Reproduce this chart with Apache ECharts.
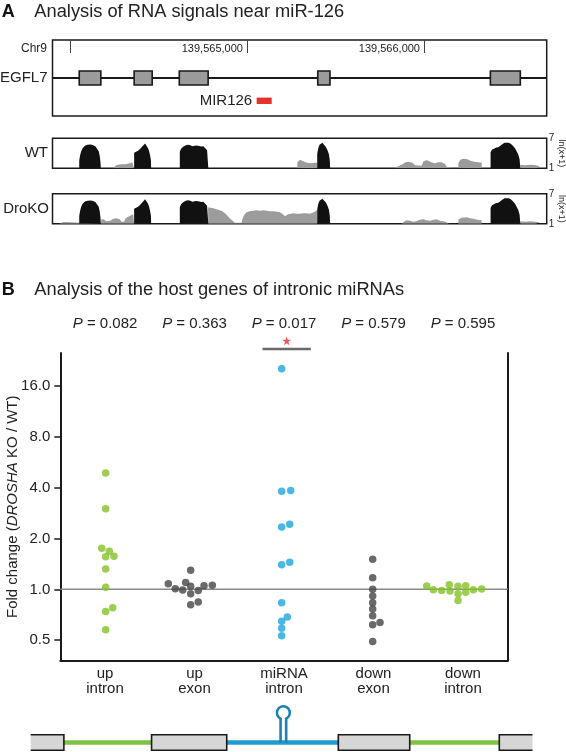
<!DOCTYPE html>
<html><head><meta charset="utf-8">
<script src="https://cdn.jsdelivr.net/npm/echarts@6/dist/echarts.min.js"></script>
<style>html,body{margin:0;padding:0;background:#fff}#c{width:566px;height:752px}</style>
</head><body><div id="c"></div>
<script>
// ---------- Panel A data (positions in bp relative to CHR_BASE) ----------
const CHR_BASE = 139564000;
const chrTicks = [0, 1000, 2000];
const chrTickLabels = [1000, 2000];
const geneSpan = [-98, 2693];
const egfl7Exons = [[53,175],[363,465],[618,781],[1400,1469],[2375,2544]];
const mir126 = [[1055,1140]];

const wtExonCov = [
 [53,1],[53,2.6],[58,3.6],[64,4.4],[72,5.0],[85,5.5],[100,5.7],[118,5.75],[132,5.6],[145,5.35],[156,5.0],[163,4.4],[169,3.4],[173,2.2],[175,1],
 [363,1],[363,4.1],[372,4.3],[385,4.5],[398,4.9],[410,5.4],[418,5.8],[425,5.95],[432,5.7],[440,5.1],[447,4.5],[453,3.6],[458,2.6],[459,1],
 [621,1],[621,4.3],[628,4.9],[640,5.3],[655,5.6],[668,5.7],[680,5.6],[692,5.4],[702,5.3],[712,5.55],[724,5.5],[734,5.1],[742,5.35],[754,5.4],[765,5.1],[775,4.6],[781,4.2],[782,1],
 [1397,1],[1397,3.9],[1403,5.0],[1410,5.7],[1418,6.05],[1426,6.1],[1435,5.85],[1445,5.3],[1455,4.6],[1463,3.8],[1468,2.6],[1470,1],
 [2376,1],[2376,4.2],[2384,4.7],[2395,5.0],[2408,5.15],[2420,5.2],[2430,5.5],[2442,5.8],[2455,6.1],[2466,6.2],[2478,6.1],[2490,5.9],[2502,5.5],[2514,5.0],[2524,4.6],[2532,3.8],[2540,2.8],[2544,1]
];
const wtIntronCov = [
 [245,1],[245,1.3],[258,1.5],[270,1.7],[290,1.8],[310,1.8],[325,1.9],[340,2.0],[352,2.2],[363,2.2],[363,1],
 [1230,1],[1230,1.3],[1238,1.3],[1238,1],[1255,1],[1255,1.4],[1263,1.4],[1263,1],
 [1285,1],[1285,2.2],[1300,2.7],[1310,2.6],[1325,2.3],[1340,2.1],[1360,2.0],[1380,2.1],[1397,2.1],[1397,1],
 [1830,1],[1830,1.4],[1860,1.5],[1870,1.3],[1879,1.8],[1895,2.2],[1915,2.3],[1935,2.1],[1949,1.6],[1960,1.3],[1987,1.5],[1995,2.3],[2010,2.6],[2025,2.5],[2040,2.2],[2062,2.0],[2080,2.2],[2100,2.2],[2120,1.8],[2128,1.3],[2135,1],
 [2194,1],[2194,2.0],[2205,2.7],[2222,2.9],[2245,2.8],[2262,2.5],[2285,2.3],[2326,2.1],[2326,1],
 [2544,1],[2544,1.7],[2570,1.6],[2600,1.7],[2630,1.6],[2655,1.4],[2660,1]
];
const koExonCov = [
 [53,1],[53,2.6],[58,3.6],[64,4.4],[72,5.0],[85,5.45],[100,5.6],[118,5.65],[132,5.55],[145,5.3],[156,5.0],[163,4.4],[169,3.4],[173,2.2],[175,1],
 [363,1],[363,4.0],[372,4.2],[385,4.4],[398,4.8],[410,5.3],[418,5.7],[425,5.9],[432,5.6],[440,5.1],[447,4.5],[453,3.6],[458,2.6],[459,1],
 [621,1],[621,4.3],[628,4.9],[640,5.3],[655,5.6],[668,5.7],[680,5.6],[692,5.4],[702,5.3],[712,5.55],[724,5.5],[734,5.1],[742,5.35],[754,5.4],[765,5.1],[775,4.6],[781,4.2],[782,1],
 [1397,1],[1397,3.9],[1403,5.0],[1410,5.6],[1418,5.95],[1426,6.0],[1435,5.8],[1445,5.3],[1455,4.6],[1463,3.8],[1468,2.6],[1470,1],
 [2376,1],[2376,4.2],[2384,4.7],[2395,5.0],[2408,5.15],[2420,5.2],[2430,5.5],[2442,5.8],[2455,6.1],[2466,6.2],[2478,6.1],[2490,5.9],[2502,5.5],[2514,5.0],[2524,4.6],[2532,3.8],[2540,2.8],[2544,1]
];
const koIntronCov = [
 [-60,1],[-60,1.3],[-40,1.3],[-20,1.35],[0,1.3],[9,1.3],[9,1],
 [175,1],[178,1.9],[190,1.9],[200,1.8],[207,1.5],[217,1.5],[228,1.6],[235,1.4],[245,2.0],[262,2.1],[282,1.9],[292,1.4],[305,1.4],[316,2.1],[330,2.4],[345,2.7],[358,2.9],[363,2.9],[363,1],
 [781,1],[781,4.3],[795,4.2],[810,4.1],[829,3.9],[845,3.7],[857,3.6],[872,3.2],[885,2.8],[900,2.2],[913,1.8],[923,1.4],[932,1.2],[950,1.2],[970,1.2],[975,2.0],[985,2.8],[998,3.3],[1015,3.5],[1036,3.6],[1055,3.7],[1073,3.6],[1095,3.7],[1111,3.6],[1130,3.5],[1149,3.5],[1170,3.4],[1186,3.3],[1200,3.0],[1215,2.5],[1225,2.8],[1233,2.9],[1250,3.0],[1262,3.1],[1280,3.0],[1299,3.0],[1320,3.1],[1337,3.1],[1356,3.0],[1370,3.2],[1384,3.4],[1397,3.8],[1397,1],
 [1874,1],[1874,1.4],[1890,1.5],[1902,1.7],[1920,1.6],[1940,1.4],[1955,1.5],[1977,1.8],[1995,1.9],[2015,1.7],[2035,1.6],[2053,1.8],[2070,1.9],[2090,1.6],[2110,1.5],[2128,1.3],[2140,1],
 [2194,1],[2194,1.8],[2210,2.2],[2241,2.3],[2260,2.1],[2279,2.0],[2300,1.8],[2326,1.7],[2326,1],
 [2544,1],[2544,1.5],[2570,1.4],[2600,1.5],[2630,1.4],[2655,1.3],[2660,1]
];

// ---------- Panel B data ----------
const categories = ['up\nintron','up\nexon','miRNA\nintron','down\nexon','down\nintron'];
const pValues = ['0.082','0.363','0.017','0.579','0.595'];
const yTicks = [0.5, 1, 2, 4, 8, 16];
const foldRef = 1;
// [category position incl. swarm offset, fold change]
const upIntron = [[0.007,4.90],[0.007,3.01],[-0.037,1.75],[0.048,1.68],[0.007,1.56],[0.100,1.57],[0.007,1.32],[0.007,1.03],[0.086,0.779],[0.007,0.740],[0.007,0.576]];
const upExon = [[0.957,1.297],[0.707,1.078],[0.785,1.01],[0.868,0.990],[0.901,1.10],[0.957,1.042],[0.957,0.943],[1.042,0.986],[1.106,1.052],[1.199,1.056],[0.957,0.811],[1.042,0.841]];
const mirnaIntron = [[1.974,20.3],[1.974,3.82],[2.075,3.86],[1.974,2.34],[2.064,2.43],[1.974,1.40],[2.064,1.45],[1.974,0.834],[1.974,0.648],[2.037,0.685],[1.974,0.589],[1.974,0.531]];
const downExon = [[2.991,1.507],[2.991,1.173],[2.991,1.0],[2.991,0.912],[2.991,0.834],[2.991,0.764],[2.991,0.698],[2.991,0.617],[3.073,0.637],[2.991,0.491]];
const downIntron = [[3.595,1.046],[3.669,0.996],[3.762,0.986],[3.847,1.066],[3.855,0.977],[3.945,1.042],[3.945,0.943],[3.945,0.860],[4.031,1.052],[4.031,0.960],[4.116,0.996],[4.209,1.004]];
const sigSpan = [1.76, 2.30];
const sigStar = [2.03];

// schematic (category units): [start, end, openSide]
const schemBoxes = [[-0.831,-0.460,-1],[0.520,1.360,0],[2.607,3.405,0],[4.406,4.777,1]];
const schemGreen = [[-0.460,0.520],[3.405,4.406]];
const schemBlue = [[1.360,2.607]];
const hairpin = [[1.993]];

// ---------- rendering ----------
const FONT = "'Liberation Sans', Arial, Helvetica, sans-serif";
const INK = '#1a1a1a', TXT = '#222';
const GREEN = '#84c225', DARK = '#454545', BLUE = '#1ea5dc';
const chart = echarts.init(document.getElementById('c'), null, {width:566, height:752});

const hidX = (g, min, max) => ({gridIndex:g, type:'value', min, max, show:false});
const hidY = (g, min, max) => ({gridIndex:g, type:'value', min, max, show:false});
const cov = (data, color, xi, yi) => ({type:'line', xAxisIndex:xi, yAxisIndex:yi, data, symbol:'none', showSymbol:false,
  lineStyle:{width:0}, areaStyle:{color, opacity:1, origin:'start'}, silent:true, z:2});
const trackY = (g) => ({gridIndex:g, type:'value', min:1, max:7, position:'right',
  axisLine:{show:false, onZero:false}, axisTick:{show:false}, splitLine:{show:false},
  axisLabel:{customValues:[1,7], fontSize:10, color:TXT, margin:2, fontFamily:FONT},
  name:'ln(x+1)', nameLocation:'middle', nameRotate:-90, nameGap:10, nameMoveOverlap:false,
  nameTextStyle:{fontSize:9, color:TXT, fontFamily:FONT}});
const boxGrid = (top, height) => ({left:52.5, top, width:494.2, height, show:true, borderColor:INK, borderWidth:1.5, backgroundColor:'transparent', containLabel:false, outerBoundsMode:'none'});

const segRender = (color, width) => (p, api) => {
  const a = api.coord([api.value(0), 0.5]), b = api.coord([api.value(1), 0.5]);
  return {type:'line', shape:{x1:a[0], y1:a[1], x2:b[0], y2:b[1]}, style:{stroke:color, lineWidth:width}};
};

const option = {
  animation:false,
  textStyle:{fontFamily:FONT},
  grid:[
    boxGrid(40, 76),
    boxGrid(138.3, 30),
    boxGrid(193.8, 30),
    {left:60.3, top:353, width:447.4, height:307.5, containLabel:false, outerBoundsMode:'none'},
    {left:60.3, top:330, width:447.4, height:30, containLabel:false, outerBoundsMode:'none'},
    {left:0, top:700, width:566, height:85, containLabel:false, outerBoundsMode:'none'}
  ],
  xAxis:[
    {gridIndex:0, type:'value', min:geneSpan[0], max:geneSpan[1], position:'top',
      axisLine:{show:false, onZero:false}, splitLine:{show:false},
      axisTick:{show:true, inside:true, length:13, customValues:chrTicks, lineStyle:{color:'#444', width:1}},
      axisLabel:{inside:true, customValues:chrTickLabels, align:'right', padding:[0,4,0,0], margin:3,
        fontSize:11, color:TXT, fontFamily:FONT,
        formatter:(v)=> (CHR_BASE + v).toLocaleString('en-US')}},
    hidX(1, geneSpan[0], geneSpan[1]),
    hidX(2, geneSpan[0], geneSpan[1]),
    hidX(3, -0.5, 4.5),
    {gridIndex:3, type:'category', data:categories, position:'bottom', boundaryGap:true,
      axisLine:{show:true, onZero:false, lineStyle:{color:INK, width:2}}, axisTick:{show:false},
      axisLabel:{interval:0, fontSize:15, lineHeight:15, color:TXT, margin:6, fontFamily:FONT}},
    {gridIndex:3, type:'category', data:pValues, position:'top', boundaryGap:true,
      axisLine:{show:false, onZero:false}, axisTick:{show:false},
      axisLabel:{interval:0, fontSize:15, color:TXT, margin:22, fontFamily:FONT,
        formatter:(v)=>'{i|P} = ' + v,
        rich:{i:{fontStyle:'italic', fontSize:15, color:TXT, fontFamily:FONT}}}},
    hidX(4, -0.5, 4.5),
    {gridIndex:5, type:'value', min:-0.5 - 60.3/89.48, max:-0.5 + (566-60.3)/89.48, show:false}
  ],
  yAxis:[
    hidY(0, 0, 1),
    trackY(1),
    trackY(2),
    {gridIndex:3, type:'log', logBase:2, min:0.3787, max:25.19, position:'left',
      axisLine:{show:true, onZero:false, lineStyle:{color:INK, width:2}},
      axisTick:{show:true, length:6, customValues:yTicks, lineStyle:{color:INK, width:1.5}},
      axisLabel:{customValues:yTicks, formatter:(v)=>Number(v).toFixed(1), fontSize:15, color:TXT, margin:10, fontFamily:FONT},
      splitLine:{show:false},
      name:'Fold change ({i|DROSHA} KO / WT)', nameLocation:'middle', nameGap:40, nameMoveOverlap:false,
      nameTextStyle:{fontSize:15, color:TXT, fontFamily:FONT, rich:{i:{fontStyle:'italic', fontSize:15, color:TXT, fontFamily:FONT}}}},
    {gridIndex:3, type:'value', min:0, max:1, position:'right',
      axisLine:{show:true, onZero:false, lineStyle:{color:INK, width:2}}, axisTick:{show:false}, axisLabel:{show:false}, splitLine:{show:false}},
    hidY(4, 0, 1),
    hidY(5, 0, 1)
  ],
  graphic:[
    {type:'text', x:1.8, y:12.3, style:{text:'A', font:'bold 18px '+FONT, fill:'#111', verticalAlign:'middle'}},
    {type:'text', x:34.3, y:12.3, style:{text:'Analysis of RNA signals near miR-126', font:'18.3px '+FONT, fill:TXT, verticalAlign:'middle'}},
    {type:'text', x:1.8, y:290, style:{text:'B', font:'bold 18px '+FONT, fill:'#111', verticalAlign:'middle'}},
    {type:'text', x:34.3, y:290, style:{text:'Analysis of the host genes of intronic miRNAs', font:'18.3px '+FONT, fill:TXT, verticalAlign:'middle'}},
    {type:'text', x:47, y:48.3, style:{text:'Chr9', font:'12px '+FONT, fill:TXT, align:'right', verticalAlign:'middle'}},
    {type:'text', x:47.5, y:77.7, style:{text:'EGFL7', font:'15px '+FONT, fill:TXT, align:'right', verticalAlign:'middle'}},
    {type:'text', x:48, y:153, style:{text:'WT', font:'15px '+FONT, fill:TXT, align:'right', verticalAlign:'middle'}},
    {type:'text', x:49, y:209, style:{text:'DroKO', font:'15px '+FONT, fill:TXT, align:'right', verticalAlign:'middle'}}
  ],
  series:[
    // gene model
    {type:'line', xAxisIndex:0, yAxisIndex:0, data:[[geneSpan[0],0.5],[geneSpan[1],0.5]], symbol:'none', lineStyle:{color:INK, width:2}, silent:true, z:2},
    {type:'custom', xAxisIndex:0, yAxisIndex:0, data:egfl7Exons, encode:{x:[0,1]}, z:3, silent:true,
      renderItem:(p, api)=>{ const a=api.coord([api.value(0),0.5]), b=api.coord([api.value(1),0.5]);
        return {type:'rect', shape:{x:a[0], y:a[1]-7, width:b[0]-a[0], height:14}, style:{fill:'#9b9b9b', stroke:INK, lineWidth:1.6}}; }},
    {type:'custom', xAxisIndex:0, yAxisIndex:0, data:mir126, encode:{x:[0,1]}, z:3, silent:true,
      renderItem:(p, api)=>{ const a=api.coord([api.value(0),0.2]), b=api.coord([api.value(1),0.2]);
        return {type:'group', children:[
          {type:'rect', shape:{x:a[0], y:a[1]-3.2, width:b[0]-a[0], height:6.4}, style:{fill:'#e4332b'}},
          {type:'text', style:{x:a[0]-4.5, y:a[1], text:'MIR126', align:'right', verticalAlign:'middle', font:'15px '+FONT, fill:TXT}}]}; }},
    // coverage tracks
    cov(wtIntronCov, '#9c9c9c', 1, 1),
    cov(wtExonCov, '#111111', 1, 1),
    cov(koIntronCov, '#9c9c9c', 2, 2),
    cov(koExonCov, '#111111', 2, 2),
    // panel B
    {type:'line', xAxisIndex:3, yAxisIndex:3, data:[[-0.5,foldRef],[4.5,foldRef]], symbol:'none', lineStyle:{color:'#8a8a8a', width:1.5}, silent:true, z:1},
    {type:'scatter', xAxisIndex:3, yAxisIndex:3, data:upIntron, symbolSize:7.5, itemStyle:{color:GREEN}, z:3},
    {type:'scatter', xAxisIndex:3, yAxisIndex:3, data:upExon, symbolSize:7.5, itemStyle:{color:DARK}, z:3},
    {type:'scatter', xAxisIndex:3, yAxisIndex:3, data:mirnaIntron, symbolSize:7.5, itemStyle:{color:BLUE}, z:3},
    {type:'scatter', xAxisIndex:3, yAxisIndex:3, data:downExon, symbolSize:7.5, itemStyle:{color:DARK}, z:3},
    {type:'scatter', xAxisIndex:3, yAxisIndex:3, data:downIntron, symbolSize:7.5, itemStyle:{color:GREEN}, z:3},
    // significance bar
    {type:'line', xAxisIndex:6, yAxisIndex:5, data:[[sigSpan[0],0.367],[sigSpan[1],0.367]], symbol:'none', lineStyle:{color:'#6a6a6a', width:2.5}, silent:true},
    {type:'scatter', xAxisIndex:6, yAxisIndex:5, data:sigStar.map(x=>[x,0.643]), symbolSize:9,
      symbol:'path://M50,0 L61,35 L98,35 L68,57 L79,91 L50,70 L21,91 L32,57 L2,35 L39,35 Z', itemStyle:{color:'#e2302a'}, silent:true},
    // schematic
    {type:'custom', xAxisIndex:7, yAxisIndex:6, data:schemGreen, encode:{x:[0,1]}, renderItem:segRender('#7dc242', 4.5), z:1, silent:true},
    {type:'custom', xAxisIndex:7, yAxisIndex:6, data:schemBlue, encode:{x:[0,1]}, renderItem:segRender('#1f9bd0', 4.5), z:1, silent:true},
    {type:'custom', xAxisIndex:7, yAxisIndex:6, data:hairpin, encode:{x:0}, z:2, silent:true,
      renderItem:(p, api)=>{ const b=api.coord([api.value(0),0.5]); const bx=b[0], by=b[1];
        const cy = by-29.75, r=6.5, dx=2.8, ny = cy+Math.sqrt(r*r-dx*dx);
        const d = `M${bx-dx},${by} L${bx-dx},${ny} A${r},${r} 0 1 1 ${bx+dx},${ny} L${bx+dx},${by}`;
        return {type:'path', shape:{pathData:d}, style:{fill:null, stroke:'#1c80b4', lineWidth:2.6}}; }},
    {type:'custom', xAxisIndex:7, yAxisIndex:6, data:schemBoxes, encode:{x:[0,1]}, z:3, silent:true,
      renderItem:(p, api)=>{ const a=api.coord([api.value(0),0.5]), b=api.coord([api.value(1),0.5]);
        const open=api.value(2), top=a[1]-7.7, bot=a[1]+7.7, x0=a[0], x1=b[0];
        const fill={type:'rect', shape:{x:x0,y:top,width:x1-x0,height:bot-top}, style:{fill:'#d6d6d6'}};
        if (open===0) { fill.style.stroke=INK; fill.style.lineWidth=1.6; return fill; }
        const pts = open<0 ? [[x0,top],[x1,top],[x1,bot],[x0,bot]] : [[x1,top],[x0,top],[x0,bot],[x1,bot]];
        return {type:'group', children:[fill, {type:'polyline', shape:{points:pts}, style:{fill:null, stroke:INK, lineWidth:1.6}}]}; }}
  ]
};
chart.setOption(option);
</script></body></html>
